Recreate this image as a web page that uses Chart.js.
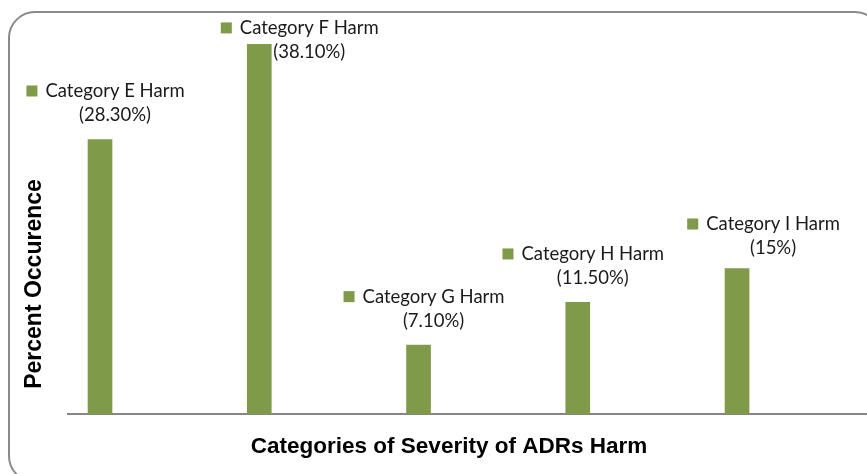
<!DOCTYPE html>
<html>
<head>
<meta charset="utf-8">
<script src="https://cdn.jsdelivr.net/npm/chart.js@4.4.1/dist/chart.umd.min.js"></script>
<style>
  html, body { margin: 0; padding: 0; background: #fff; }
  #wrap { width: 867px; height: 474px; position: relative; }
</style>
</head>
<body>
<div id="wrap"><canvas id="harmChart"></canvas></div>
<script>
// data
const categories = ['Category E Harm', 'Category F Harm', 'Category G Harm', 'Category H Harm', 'Category I Harm'];
const occurrence = [28.3, 38.1, 7.1, 11.5, 15];
const occurrenceText = ['(28.30%)', '(38.10%)', '(7.10%)', '(11.50%)', '(15%)'];

// hand-moved data labels in the original (pixel nudges)
const labelNudge = [[0, 0], [35, 32], [0, 0], [0, 0], [21, 4]];

const barGreen = '#7f9a48';
const labelFont = "18.5px Lato, 'Open Sans', sans-serif";
const titleFamily = "'Liberation Sans', Arial, sans-serif";

// rounded frame around everything
const framePlugin = {
    id: 'frame',
    beforeDraw(chart) {
        const ctx = chart.ctx;
        ctx.save();
        ctx.fillStyle = '#ffffff';
        ctx.fillRect(0, 0, chart.width, chart.height);
        ctx.strokeStyle = '#8a8a8a';
        ctx.lineWidth = 2;
        ctx.beginPath();
        ctx.roundRect(9, 12, 872, 470, 26);
        ctx.stroke();
        ctx.restore();
    }
};

// axis titles are off-centre in the original, so place them by hand
const axisTitlePlugin = {
    id: 'axisTitles',
    afterDraw(chart) {
        const ctx = chart.ctx;
        ctx.save();
        ctx.font = 'bold 22.5px ' + titleFamily;
        ctx.fillStyle = '#000';
        ctx.textAlign = 'center';
        ctx.textBaseline = 'middle';
        ctx.fillText('Categories of Severity of ADRs Harm', 449, 447);
        ctx.translate(35, 284);
        ctx.rotate(-Math.PI / 2);
        ctx.font = 'bold 23px ' + titleFamily;
        ctx.fillText('Percent Occurence', 0, 0);
        ctx.restore();
    }
};

// legend-style square + name + percent above each bar
const barLabelPlugin = {
    id: 'barLabels',
    afterDatasetsDraw(chart) {
        const ctx = chart.ctx;
        const meta = chart.getDatasetMeta(0);
        ctx.save();
        ctx.font = labelFont;
        ctx.textAlign = 'center';
        ctx.textBaseline = 'middle';
        meta.data.forEach((bar, i) => {
            const cx = bar.x + 15 + labelNudge[i][0];
            const y1 = bar.y - 48 + labelNudge[i][1];
            const y2 = y1 + 24;
            ctx.fillStyle = '#1a1a1a';
            ctx.fillText(categories[i], cx, y1);
            ctx.fillText(occurrenceText[i], cx, y2);
            const w = ctx.measureText(categories[i]).width;
            ctx.fillStyle = barGreen;
            ctx.fillRect(cx - w / 2 - 8 - 11, y1 - 6, 11, 11);
        });
        ctx.restore();
    }
};

const ctx = document.getElementById('harmChart').getContext('2d');
const harmChart = new Chart(ctx, {
    type: 'bar',
    data: {
        datasets: [{
            data: occurrence.map((v, i) => ({ x: i, y: v })),
            backgroundColor: barGreen,
            borderWidth: 0,
            barThickness: 24
        }]
    },
    options: {
        responsive: true,
        maintainAspectRatio: false,
        animation: false,
        layout: { padding: { top: 26, left: 0, right: 0, bottom: 0 } },
        plugins: {
            legend: { display: false },
            tooltip: { enabled: false }
        },
        scales: {
            x: {
                type: 'linear',
                offset: false,
                min: -0.201,
                max: 4.816,
                grid: { display: false, drawTicks: false },
                ticks: { display: false },
                border: { display: true, color: '#868686', width: 2 },
                title: { display: false },
                afterFit(scale) { scale.height = 60; }
            },
            y: {
                min: 0,
                max: 40,
                grid: { display: false, drawTicks: false },
                ticks: { display: false },
                border: { display: false },
                title: { display: false },
                afterFit(scale) { scale.width = 68; }
            }
        }
    },
    plugins: [framePlugin, barLabelPlugin, axisTitlePlugin]
});
</script>
</body>
</html>
